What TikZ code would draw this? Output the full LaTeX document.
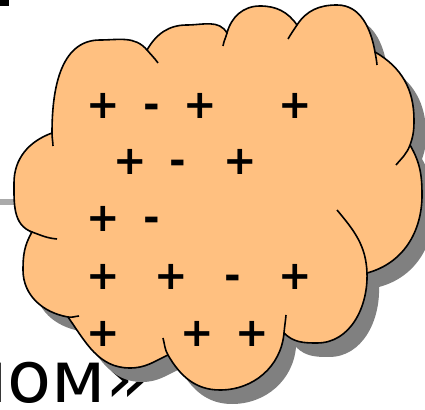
\documentclass[tikz,border=0pt]{standalone}
\usepackage{fontspec}
\setmainfont{DejaVu Sans}
\definecolor{CloudFill}{RGB}{255,192,128}
\definecolor{CloudShade}{RGB}{128,128,128}
\definecolor{RuleGray}{RGB}{170,170,170}
\tikzset{
  cloud line/.style={draw=black, line width=1.6pt, line join=round, fill=CloudFill},
  cloud tail/.style={draw=black, line width=1.6pt},
  cloud shadow/.style={fill=CloudShade},
  sign/.style={font=\fontsize{40}{40}\selectfont\bfseries, inner sep=0pt, anchor=base, yshift=-12pt},
  slide text/.style={font=\fontsize{72}{72}\selectfont, inner sep=0pt, anchor=base west}
}
% outline of the cloud, one bump after the other
\newcommand\cloudpath{(52,276) to[out=90,in=180] (100,369) to[out=0,in=130] (147,359)
  to[out=60,in=180] (187,384) to[out=0,in=120] (227,376)
  to[out=75,in=180] (260,403) to[out=0,in=125] (297,384)
  to[out=57,in=180] (337,404) to[out=0,in=100] (375,357)
  to[out=-30,in=90] (414,289) to[out=-90,in=70] (410,264)
  to[out=-60,in=90] (422,214) to[out=-90,in=15] (367,136)
  to[out=-88,in=0] (317,66) to[out=180,in=-45] (284,76)
  to[out=-95,in=0] (220,19) to[out=180,in=-60] (168,54)
  to[out=-155,in=0] (130,41) to[out=180,in=-55] (68,92)
  to[out=170,in=-90] (23,139) to[out=90,in=-120] (32,177)
  to[out=160,in=-90] (14,226) to[out=90,in=-160] (52,276) -- cycle}
\begin{document}
\begin{tikzpicture}[x=1pt, y=1pt]
\useasboundingbox (0,0) rectangle (425,409);
% slide leftovers behind the cloud
\fill[RuleGray] (0,204) rectangle (60,210);
\fill[black] (0,403) rectangle (9,409);
\node[slide text] (word) at (-47,6) {мом»};
% shadow and cloud
\fill[cloud shadow, shift={(12,-14)}] \cloudpath;
\path[cloud line] \cloudpath;
\draw[cloud tail] (52,276) to[out=-90,in=92] (53,263);
\draw[cloud tail] (147,359) to[out=-50,in=125] (158,346);
\draw[cloud tail] (227,376) to[out=-105,in=80] (223,363);
\draw[cloud tail] (297,384) to[out=-123,in=60] (288,370);
\draw[cloud tail] (375,357) to[out=-80,in=95] (377,344);
\draw[cloud tail] (410,264) to[out=-110,in=50] (396,244);
\draw[cloud tail] (367,136) to[out=92,in=-50] (337,199);
\draw[cloud tail] (284,76) to[out=85,in=-95] (286,94);
\draw[cloud tail] (168,54) to[out=120,in=-75] (163,71);
\draw[cloud tail] (68,92) to[out=-10,in=185] (79,93);
\draw[cloud tail] (32,177) to[out=-20,in=175] (57,170);
% charges
\foreach \px/\py/\sg [count=\i] in {103/302/+, 152/302/-, 200/302/+, 295/302/+,
    130/246/+, 178/246/-, 240/246/+,
    103/189/+, 152/189/-,
    103/131/+, 171/131/+, 233/131/-, 295/131/+,
    103/74/+, 197/74/+, 252/74/+}
  \node[sign] (q\i) at (\px,\py) {\sg};
\end{tikzpicture}
\end{document}
